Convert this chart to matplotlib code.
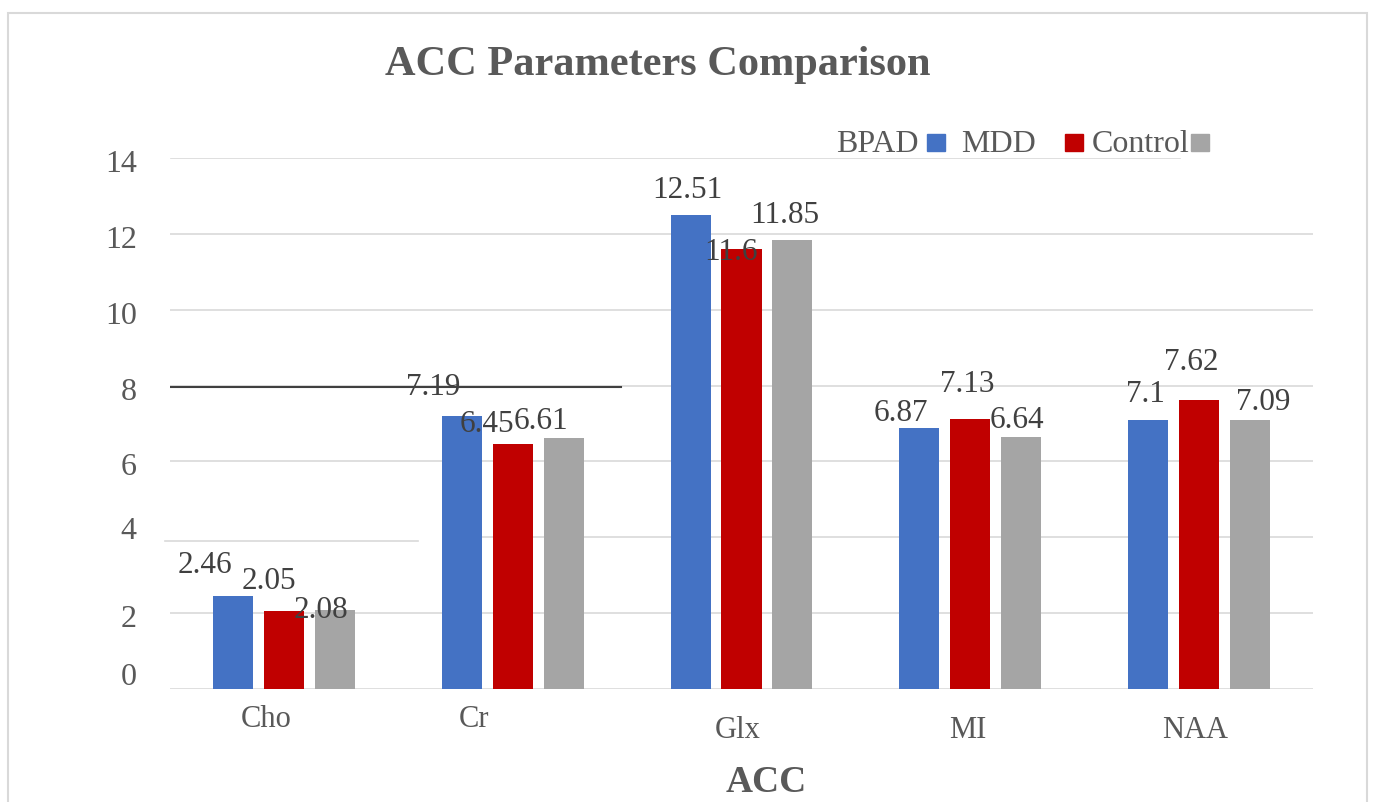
import numpy as np
import matplotlib
matplotlib.use("Agg")
from matplotlib import pyplot as plt
from matplotlib.patches import Rectangle
from matplotlib.transforms import ScaledTranslation

# data
categories = ["Cho", "Cr", "Glx", "MI", "NAA"]
groups = ["BPAD", "MDD", "Control"]
bpad = [2.46, 7.19, 12.51, 6.87, 7.1]
mdd = [2.05, 6.45, 11.6, 7.13, 7.62]
control = [2.08, 6.61, 11.85, 6.64, 7.09]
yticks = [0, 2, 4, 6, 8, 10, 12, 14]

colors = ["#4472C4", "#C00000", "#A5A5A5"]
text_col = "#404040"
tick_col = "#595959"
grid_col = "#D9D9D9"

plt.rcParams["font.family"] = ["Liberation Serif", "DejaVu Serif"]

W, H = 1373, 802
fig = plt.figure(figsize=(W / 100, H / 100), dpi=100)
ax = fig.add_axes([170 / W, 1 - 689 / H, 1143 / W, 531 / H])
ax.set_xlim(-0.5, 4.5)
ax.set_ylim(0, 14)
for s in ax.spines.values():
    s.set_visible(False)
ax.tick_params(length=0)
ax.set_xticks([])

# gridlines (some are only partly drawn)
for v in yticks:
    if v == 14:
        ax.axhline(v, xmin=0.001, xmax=0.884, color=grid_col, lw=1.2, zorder=0)
    elif v == 4:
        ax.axhline(v, xmin=0.239, xmax=1, color=grid_col, lw=1.2, zorder=0)
        ax.axhline(3.9, xmin=-0.004, xmax=0.217, color=grid_col, lw=1.2,
                   zorder=0, clip_on=False)
    else:
        ax.axhline(v, color=grid_col, lw=1.2, zorder=0)
ax.axhline(7.96, xmin=0.001, xmax=0.395, color="#404040", lw=1.5, zorder=1)

# y tick labels
ax.set_yticks(yticks)
ax.set_yticklabels([str(v) for v in yticks], fontsize=23, color=tick_col)
ax.tick_params(axis="y", pad=24)
ytick_shift = {0: 15, 4: 9}
for v, lab in zip(yticks, ax.get_yticklabels()):
    dy = ytick_shift.get(v, -3)
    lab.set_transform(lab.get_transform() + ScaledTranslation(0, dy / 100, fig.dpi_scale_trans))

# bars
x = np.arange(len(categories))
off = 0.223
width = 0.175
series = [bpad, mdd, control]
for i, vals in enumerate(series):
    ax.bar(x + (i - 1) * off, vals, width, color=colors[i], zorder=2)

# value labels, offsets in pixels from bar top (dx, dy of digit centre)
label_off = [
    [(-28, 33), (-29, 32), (-3, 27), (-18, 18), (-2, 28)],
    [(-15, 33), (-26, 23), (-10, 0), (-3, 37), (-7, 40)],
    [(-14, 3), (-23, 20), (-8, 27), (-4, 20), (14, 21)],
]
for i, vals in enumerate(series):
    for j, v in enumerate(vals):
        dx, dy = label_off[i][j]
        ax.annotate(f"{v:g}", xy=(x[j] + (i - 1) * off, v), xytext=(dx, dy - 10.5),
                    textcoords="offset pixels", ha="center", va="baseline",
                    fontsize=22.5, color=text_col, zorder=3)

# category labels
cat_off = [(-18, 38), (-39, 38), (-4, 49), (-2, 49), (-4, 49)]
for j, name in enumerate(categories):
    dx, dy = cat_off[j]
    ax.annotate(name, xy=(x[j], 0), xycoords=("data", "axes fraction"),
                xytext=(dx, -dy), textcoords="offset pixels", ha="center",
                va="baseline", fontsize=22, color=tick_col)

# titles
fig.text(658 / W, 1 - 75 / H, "ACC Parameters Comparison", ha="center", va="baseline",
         fontsize=30.5, fontweight="bold", color=tick_col)
fig.text(766 / W, 1 - 792 / H, "ACC", ha="center", va="baseline",
         fontsize=27, fontweight="bold", color=tick_col)

# legend: label followed by its swatch
leg_text_x = [836, 961, 1092]
leg_box_x = [927, 1065, 1191]
for i, g in enumerate(groups):
    fig.text(leg_text_x[i] / W, 1 - 152 / H, g, ha="left", va="baseline",
             fontsize=23, color=tick_col)
    fig.patches.append(Rectangle((leg_box_x[i] / W, 1 - 151 / H), 18 / W, 17 / H,
                                 transform=fig.transFigure, color=colors[i]))

# outer frame
fig.patches.append(Rectangle((8 / W, -0.02), 1359 / W, 1 - 13 / H + 0.02,
                             transform=fig.transFigure, fill=False,
                             edgecolor=grid_col, lw=1.5))

fig.savefig("out.png", dpi=100)
